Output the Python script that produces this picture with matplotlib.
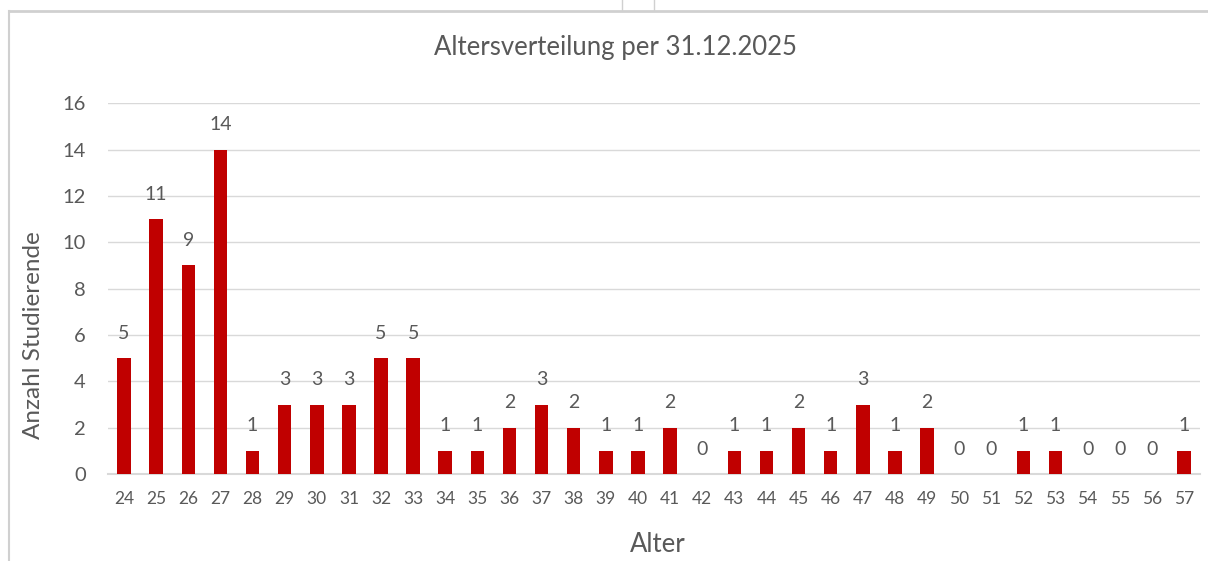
import matplotlib.pyplot as plt
from matplotlib.lines import Line2D

# Daten: Alter und Anzahl Studierende
alter = list(range(24, 58))
anzahl = [5, 11, 9, 14, 1, 3, 3, 3, 5, 5, 1, 1, 2, 3, 2, 1, 1, 2, 0, 1,
          1, 2, 1, 3, 1, 2, 0, 0, 1, 1, 0, 0, 0, 1]
y_ticks = [0, 2, 4, 6, 8, 10, 12, 14, 16]

titel = "Altersverteilung per 31.12.2025"
x_label = "Alter"
y_label = "Anzahl Studierende"

rot = "#C00000"
grau_text = "#595959"
grau_linie = "#D9D9D9"

plt.rcParams['font.family'] = ['Lato', 'DejaVu Sans']

W, H = 1208, 561
def fx(p): return p / W
def fy(p): return 1 - p / H

fig = plt.figure(figsize=(12.08, 5.61), dpi=100)
ax = fig.add_axes([0.0894, 0.155, 0.904, 0.661])

pos = list(range(len(alter)))
ax.bar(pos, anzahl, width=0.42, color=rot, zorder=3)

# Datenbeschriftungen
for x, v in zip(pos, anzahl):
    ax.annotate(str(v), (x, v), xytext=(0, 18), textcoords='offset points',
                ha='center', va='center', fontsize=14, color=grau_text)

ax.set_xlim(-0.5, len(alter) - 0.5)
ax.set_ylim(0, 16)
ax.set_yticks(y_ticks)
ax.set_xticks(pos)
ax.set_xticklabels([str(a) for a in alter])
ax.tick_params(axis='x', length=0, pad=12, labelsize=12.5, labelcolor=grau_text)
ax.tick_params(axis='y', length=0, pad=16, labelsize=14.5, labelcolor=grau_text)

ax.grid(axis='y', color=grau_linie, linewidth=1, zorder=0)
for s in ['top', 'right', 'left']:
    ax.spines[s].set_visible(False)
ax.spines['bottom'].set_color(grau_linie)
ax.spines['bottom'].set_linewidth(1.5)

# Achsentitel und Diagrammtitel
fig.text(fx(658), fy(545), x_label, ha='center', va='center',
         fontsize=18.5, color=grau_text)
fig.text(fx(34), fy(335), y_label, ha='center', va='center', rotation=90,
         fontsize=17.5, color=grau_text)
fig.text(fx(615), fy(48), titel, ha='center', va='center',
         fontsize=18.5, color=grau_text)

# Rahmen des Diagrammbereichs (Screenshot-Kanten)
fig.add_artist(Line2D([fx(9), fx(1208)], [fy(11), fy(11)], color="#D0D0D0", lw=2))
fig.add_artist(Line2D([fx(9), fx(9)], [fy(11), fy(561)], color="#D0D0D0", lw=1.5))
fig.add_artist(Line2D([fx(622), fx(622)], [fy(0), fy(10)], color="#D0D0D0", lw=1))
fig.add_artist(Line2D([fx(654), fx(654)], [fy(0), fy(10)], color="#D0D0D0", lw=1))

fig.savefig("out.png", dpi=100)
